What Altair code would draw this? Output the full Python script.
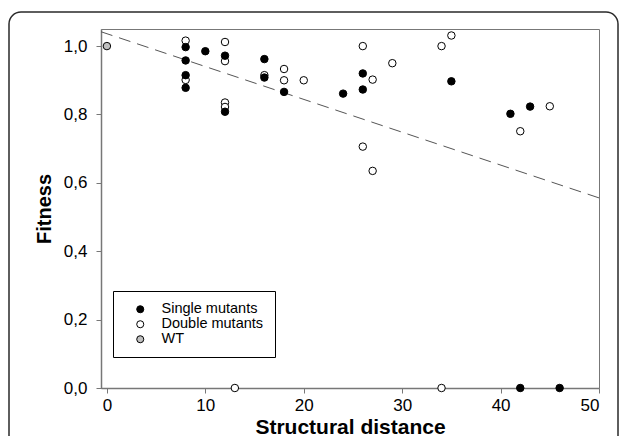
import altair as alt
import pandas as pd

# ---- data ----
double_x = [8, 8, 12, 12, 12, 12, 16, 18, 18, 20, 26, 26, 27, 27, 29, 34, 35, 42, 45, 13, 34]
double_y = [1.016, 0.901, 1.012, 0.956, 0.835, 0.822, 0.915, 0.933, 0.900, 0.900,
            1.000, 0.706, 0.902, 0.635, 0.950, 1.000, 1.031, 0.751, 0.824, 0.0, 0.0]

wt_x = [0]
wt_y = [1.0]

single_x = [8, 8, 8, 8, 10, 12, 12, 16, 16, 18, 24, 26, 26, 35, 41, 43, 42, 46]
single_y = [0.997, 0.958, 0.915, 0.878, 0.985, 0.972, 0.808, 0.962, 0.908, 0.866,
            0.861, 0.920, 0.873, 0.897, 0.802, 0.823, 0.0, 0.0]

# regression line end points
line_x = [-0.6, 50]
line_y = [1.042, 0.556]

types = ["Single mutants", "Double mutants", "WT"]
type_colors = ["#000000", "#ffffff", "#c0c0c0"]

x_ticks = [0, 10, 20, 30, 40, 50]
y_ticks = [0.0, 0.2, 0.4, 0.6, 0.8, 1.0]

rows = []
for xv, yv in zip(double_x, double_y):
    rows.append({"d": xv, "f": yv, "type": "Double mutants"})
for xv, yv in zip(wt_x, wt_y):
    rows.append({"d": xv, "f": yv, "type": "WT"})
for xv, yv in zip(single_x, single_y):
    rows.append({"d": xv, "f": yv, "type": "Single mutants"})
df = pd.DataFrame(rows)
line_df = pd.DataFrame({"d": line_x, "f": line_y})

FONT = "Liberation Sans"

xscale = alt.Scale(domain=[-0.6, 50], nice=False, zero=False)
yscale = alt.Scale(domain=[0, 1.05], nice=False, zero=False)

xaxis = alt.Axis(values=x_ticks, title="Structural distance", tickSize=5,
                 labelPadding=4, titlePadding=3, titleFontSize=21)
yaxis = alt.Axis(values=y_ticks, title="Fitness", tickSize=5, labelPadding=9,
                 titlePadding=9, titleFontSize=20,
                 labelExpr="replace(format(datum.value, '.1f'), '.', ',')")

card = alt.Chart(pd.DataFrame({"k": [0]})).mark_rect(
    fill="white", fillOpacity=0, stroke="#2a2a2a", strokeWidth=1.5, cornerRadius=12
).encode(
    x=alt.value(-92), x2=alt.value(517), y=alt.value(-17), y2=alt.value(470)
)

line = alt.Chart(line_df).mark_line(
    color="#555555", strokeWidth=1, strokeDash=[12, 7]
).encode(
    x=alt.X("d:Q", scale=xscale, axis=xaxis),
    y=alt.Y("f:Q", scale=yscale, axis=yaxis),
)

points = alt.Chart(df).mark_point(
    shape="circle", filled=True, size=56, stroke="black", strokeWidth=1, opacity=1
).encode(
    x=alt.X("d:Q", scale=xscale, axis=xaxis),
    y=alt.Y("f:Q", scale=yscale, axis=yaxis),
    fill=alt.Fill(
        "type:N",
        scale=alt.Scale(domain=types, range=type_colors),
        legend=alt.Legend(
            title=None, orient="none", legendX=12, legendY=262,
            padding=11, symbolOffset=9, labelOffset=14, rowPadding=0,
            strokeColor="black", fillColor="white",
            symbolType="circle", symbolSize=50, symbolStrokeColor="black",
            symbolStrokeWidth=1, symbolOpacity=1,
            labelFont=FONT, labelFontSize=14.5, labelColor="black",
        ),
    ),
)

chart = alt.layer(card, line, points).properties(
    width=498, height=359,
    autosize=alt.AutoSizeParams(type="none"),
    padding={"left": 93, "top": 21, "right": 20, "bottom": 48},
).configure_view(
    stroke="#777777", strokeWidth=1
).configure_axis(
    grid=False, domainColor="#777777", domainWidth=1.5, tickColor="#777777",
    labelFont=FONT, labelFontSize=17, labelColor="black",
    titleFont=FONT, titleFontWeight="bold", titleColor="black",
)

chart.save("out.html", embed_options={"renderer": "svg", "actions": False})
